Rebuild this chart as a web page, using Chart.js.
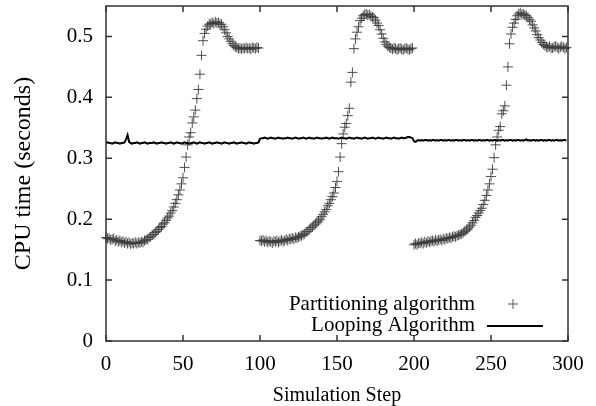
<!DOCTYPE html>
<html><head><meta charset="utf-8">
<script src="https://cdn.jsdelivr.net/npm/chart.js@4/dist/chart.umd.min.js"></script>
<style>html,body{margin:0;padding:0;background:#fff}#wrap{width:596px;height:406px}</style>
</head><body><div id="wrap"><canvas id="c" width="596" height="406"></canvas></div>
<script>
const xTicks=[0,50,100,150,200,250,300];
const yTicks=[0,0.1,0.2,0.3,0.4,0.5];
const seriesNames=["Partitioning algorithm","Looping Algorithm"];
const xTitle="Simulation Step";
const yTitle="CPU time (seconds)";

// Partitioning algorithm, steps 0-99, 100-199, 200-299
const partitioning1=[0.170,0.168,0.169,0.166,0.167,0.168,0.164,0.166,0.163,0.165,0.162,0.164,0.161,0.163,0.160,0.162,0.159,0.161,0.160,0.162,
0.160,0.162,0.161,0.163,0.162,0.165,0.166,0.167,0.170,0.171,0.174,0.175,0.178,0.180,0.183,0.186,0.188,0.192,0.194,0.198,
0.202,0.205,0.210,0.214,0.220,0.226,0.232,0.240,0.248,0.258,0.268,0.285,0.302,0.322,0.335,0.342,0.358,0.368,0.379,0.398,
0.413,0.438,0.469,0.493,0.505,0.512,0.517,0.520,0.521,0.523,0.521,0.524,0.522,0.523,0.520,0.520,0.516,0.511,0.506,0.500,
0.496,0.492,0.488,0.485,0.483,0.482,0.480,0.481,0.479,0.481,0.480,0.482,0.480,0.481,0.479,0.482,0.481,0.480,0.482,0.481];
const partitioning2=[0.165,0.164,0.166,0.163,0.165,0.162,0.164,0.163,0.161,0.164,0.163,0.165,0.162,0.164,0.166,0.163,0.165,0.167,0.165,0.168,
0.167,0.169,0.167,0.170,0.169,0.171,0.172,0.173,0.175,0.176,0.179,0.180,0.183,0.186,0.187,0.190,0.192,0.195,0.197,0.200,
0.204,0.208,0.212,0.216,0.222,0.226,0.232,0.237,0.243,0.252,0.262,0.278,0.302,0.324,0.340,0.351,0.357,0.370,0.382,0.425,
0.441,0.480,0.496,0.507,0.516,0.526,0.530,0.534,0.536,0.537,0.535,0.536,0.533,0.532,0.531,0.527,0.522,0.518,0.511,0.504,
0.497,0.491,0.487,0.484,0.482,0.481,0.479,0.481,0.480,0.478,0.480,0.481,0.479,0.478,0.480,0.481,0.479,0.478,0.480,0.481];
const partitioning3=[0.158,0.160,0.158,0.161,0.160,0.162,0.160,0.163,0.161,0.164,0.162,0.164,0.165,0.163,0.166,0.164,0.166,0.167,0.165,0.168,
0.166,0.169,0.168,0.170,0.169,0.171,0.172,0.171,0.173,0.174,0.175,0.176,0.178,0.180,0.182,0.184,0.187,0.190,0.194,0.198,
0.203,0.206,0.210,0.214,0.218,0.224,0.231,0.239,0.248,0.258,0.270,0.282,0.301,0.322,0.335,0.346,0.352,0.373,0.378,0.386,
0.420,0.450,0.488,0.504,0.515,0.522,0.528,0.534,0.537,0.539,0.536,0.537,0.535,0.534,0.531,0.528,0.525,0.519,0.514,0.509,
0.503,0.498,0.494,0.490,0.487,0.485,0.483,0.482,0.484,0.481,0.481,0.483,0.484,0.482,0.480,0.482,0.484,0.482,0.480,0.482];

// Looping Algorithm, steps 0-99, 100-199, 200-299
const looping1=[0.325,0.326,0.325,0.325,0.324,0.325,0.326,0.325,0.325,0.324,0.325,0.325,0.326,0.331,0.338,0.327,0.325,0.324,0.325,0.325,
0.326,0.325,0.324,0.325,0.325,0.326,0.325,0.324,0.325,0.325,0.325,0.326,0.325,0.324,0.325,0.325,0.326,0.325,0.325,0.324,
0.325,0.325,0.326,0.325,0.324,0.325,0.326,0.325,0.325,0.324,0.325,0.326,0.325,0.325,0.324,0.325,0.325,0.326,0.325,0.324,
0.325,0.326,0.325,0.325,0.324,0.325,0.325,0.326,0.325,0.324,0.325,0.325,0.326,0.325,0.325,0.324,0.325,0.326,0.325,0.325,
0.324,0.325,0.325,0.326,0.325,0.324,0.325,0.325,0.326,0.325,0.325,0.324,0.325,0.326,0.325,0.325,0.324,0.325,0.325,0.326];
const looping2=[0.332,0.333,0.333,0.334,0.333,0.332,0.333,0.334,0.333,0.333,0.332,0.333,0.334,0.333,0.333,0.332,0.333,0.333,0.334,0.333,
0.333,0.332,0.333,0.334,0.333,0.332,0.333,0.333,0.334,0.333,0.332,0.333,0.334,0.333,0.333,0.332,0.333,0.334,0.333,0.333,
0.332,0.333,0.333,0.334,0.333,0.332,0.333,0.334,0.333,0.333,0.333,0.332,0.333,0.334,0.333,0.333,0.332,0.333,0.334,0.333,
0.333,0.332,0.333,0.334,0.333,0.333,0.332,0.333,0.334,0.333,0.332,0.333,0.333,0.334,0.333,0.332,0.333,0.334,0.333,0.333,
0.332,0.333,0.334,0.333,0.333,0.332,0.333,0.334,0.333,0.333,0.332,0.333,0.334,0.333,0.333,0.334,0.335,0.335,0.334,0.333];
const looping3=[0.328,0.327,0.329,0.330,0.329,0.330,0.329,0.330,0.330,0.329,0.330,0.329,0.330,0.330,0.329,0.330,0.329,0.330,0.330,0.329,
0.330,0.329,0.330,0.330,0.329,0.330,0.329,0.330,0.330,0.329,0.330,0.329,0.330,0.330,0.329,0.330,0.329,0.330,0.330,0.329,
0.330,0.329,0.330,0.330,0.329,0.330,0.329,0.330,0.330,0.329,0.330,0.329,0.330,0.330,0.329,0.330,0.329,0.330,0.330,0.329,
0.330,0.329,0.330,0.330,0.329,0.330,0.329,0.330,0.330,0.329,0.330,0.329,0.330,0.331,0.329,0.330,0.329,0.330,0.330,0.329,
0.330,0.329,0.330,0.330,0.329,0.330,0.329,0.330,0.330,0.329,0.330,0.329,0.330,0.330,0.329,0.330,0.329,0.330,0.330,0.329];

const partitioning=[...partitioning1,...partitioning2,...partitioning3];
const looping=[...looping1,...looping2,...looping3];
const FONT="'Liberation Serif','Times New Roman',serif";
const FS=21;

const framePlugin={
  id:'frame',
  afterDraw(chart){
    const {ctx,chartArea:a,scales:{x,y}}=chart;
    ctx.save();
    ctx.strokeStyle='#333';ctx.lineWidth=1.5;
    ctx.strokeRect(a.left,a.top,a.right-a.left,a.bottom-a.top);
    const L=6;
    ctx.beginPath();
    xTicks.forEach(v=>{const px=x.getPixelForValue(v);
      ctx.moveTo(px,a.bottom);ctx.lineTo(px,a.bottom-L);
      ctx.moveTo(px,a.top);ctx.lineTo(px,a.top+L);});
    yTicks.forEach(v=>{const py=y.getPixelForValue(v);
      ctx.moveTo(a.left,py);ctx.lineTo(a.left+L,py);
      ctx.moveTo(a.right,py);ctx.lineTo(a.right-L,py);});
    ctx.stroke();
    // legend
    ctx.font=FS+'px '+FONT;ctx.fillStyle='#000';ctx.textAlign='right';ctx.textBaseline='middle';
    const tx=a.right-93, y1=a.bottom-37, y2=a.bottom-16;
    ctx.fillText(seriesNames[0],tx,y1);
    ctx.fillText(seriesNames[1],tx,y2);
    ctx.strokeStyle='#555';ctx.lineWidth=1;
    ctx.beginPath();const cx=a.right-55;
    ctx.moveTo(cx-5,y1);ctx.lineTo(cx+5,y1);ctx.moveTo(cx,y1-5);ctx.lineTo(cx,y1+5);ctx.stroke();
    ctx.strokeStyle='#000';ctx.lineWidth=2;
    ctx.beginPath();ctx.moveTo(a.right-81,y2+1);ctx.lineTo(a.right-25,y2+1);ctx.stroke();
    ctx.restore();
  }
};

new Chart(document.getElementById('c'),{
  data:{datasets:[
    {type:'scatter',label:seriesNames[0],data:partitioning.map((v,i)=>({x:i,y:v})),
     pointStyle:'cross',pointRadius:5,pointHoverRadius:5,borderColor:'rgba(60,60,60,0.9)',pointBorderWidth:1,backgroundColor:'transparent',clip:false,order:2},
    {type:'line',label:seriesNames[1],data:looping.map((v,i)=>({x:i,y:v})),
     borderColor:'#000',borderWidth:2,pointRadius:0,tension:0,fill:false,order:1}
  ]},
  options:{
    responsive:false,animation:false,devicePixelRatio:1,
    layout:{padding:{top:6,right:28,left:0,bottom:0}},
    plugins:{legend:{display:false},tooltip:{enabled:false}},
    scales:{
      x:{type:'linear',min:0,max:300,
        afterBuildTicks:s=>{s.ticks=xTicks.map(v=>({value:v}));},
        afterFit:s=>{s.height=65;s.paddingLeft=0;s.paddingRight=0;},
        grid:{display:false,drawTicks:false},border:{display:false},
        ticks:{font:{family:FONT,size:FS},color:'#000',padding:11,maxRotation:0},
        title:{display:true,text:xTitle,font:{family:FONT,size:20},color:'#000',padding:{top:0,bottom:-2}}},
      y:{type:'linear',min:0,max:0.55,
        afterBuildTicks:s=>{s.ticks=yTicks.map(v=>({value:v}));},
        afterFit:s=>{s.width=106;s.paddingTop=0;s.paddingBottom=0;},
        grid:{display:false,drawTicks:false},border:{display:false},
        ticks:{font:{family:FONT,size:FS},color:'#000',padding:13,callback:v=>String(v)},
        title:{display:true,text:yTitle,font:{family:FONT,size:24},color:'#000',padding:{top:9,bottom:0}}}
    }
  },
  plugins:[framePlugin]
});
</script></body></html>
